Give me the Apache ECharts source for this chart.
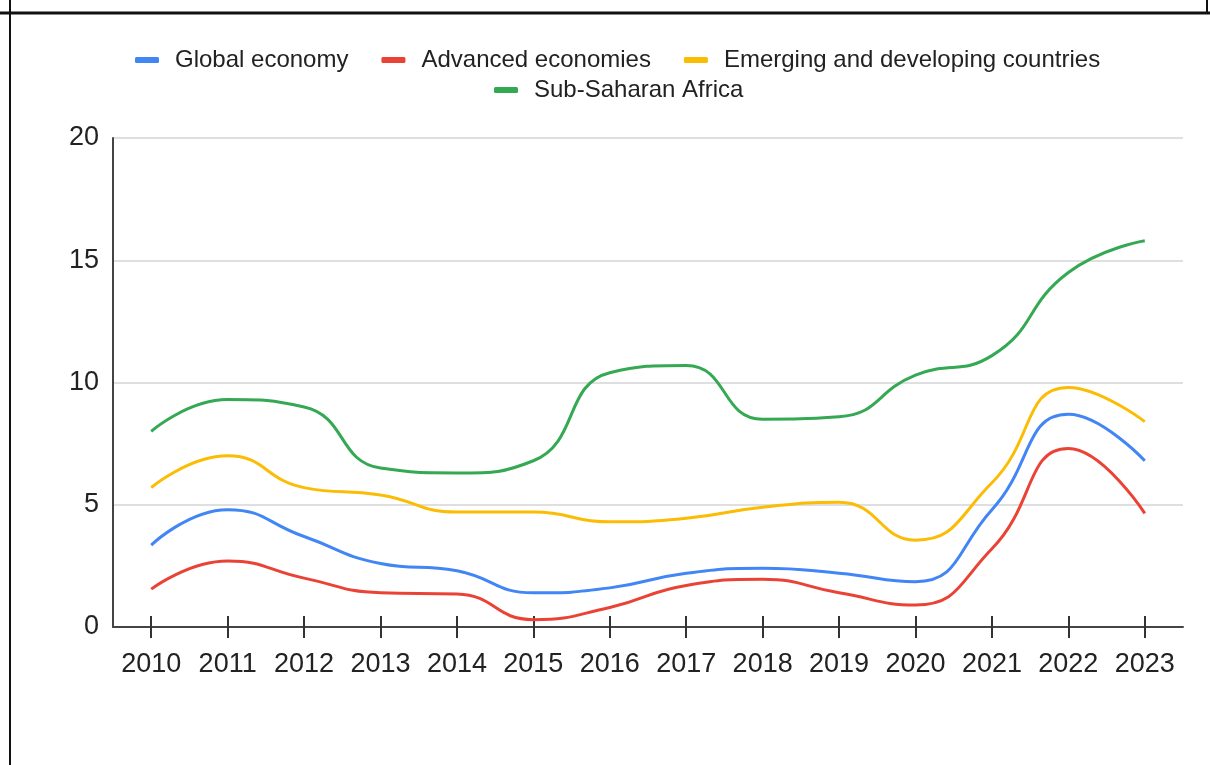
<!DOCTYPE html>
<html><head><meta charset="utf-8">
<script src="https://cdn.jsdelivr.net/npm/echarts@6/dist/echarts.min.js"></script>
<style>html,body{margin:0;padding:0;background:#fff}#c{width:1210px;height:765px}</style>
</head><body><div id="c"></div>
<script>
var years = ['2010','2011','2012','2013','2014','2015','2016','2017','2018','2019','2020','2021','2022','2023'];
var globalEconomy = [3.35, 4.8, 3.7, 2.6, 2.3, 1.4, 1.6, 2.2, 2.4, 2.2, 1.85, 4.8, 8.7, 6.8];
var advancedEconomies = [1.55, 2.7, 2.0, 1.4, 1.35, 0.3, 0.8, 1.7, 1.95, 1.4, 0.9, 3.2, 7.3, 4.65];
var emergingDeveloping = [5.7, 7.0, 5.7, 5.4, 4.7, 4.7, 4.3, 4.45, 4.9, 5.1, 3.55, 5.9, 9.8, 8.4];
var subSaharanAfrica = [8.0, 9.3, 9.0, 6.5, 6.3, 6.8, 10.4, 10.7, 8.5, 8.6, 10.3, 11.1, 14.5, 15.8];
var seriesNames = ['Global economy', 'Advanced economies', 'Emerging and developing countries', 'Sub-Saharan Africa'];
var colors = ['#4285F4', '#EA4335', '#FBBC04', '#34A853'];

var chart = echarts.init(document.getElementById('c'), null, {renderer: 'canvas'});
var font = 'Arial, "Liberation Sans", sans-serif';
function mk(name, data, color) {
  return {name: name, type: 'line', data: data, smooth: 0.5, showSymbol: false, symbol: 'none',
    lineStyle: {color: color, width: 3}, itemStyle: {color: color}, xAxisIndex: 0};
}
var legendCommon = {
  icon: 'roundRect', itemWidth: 24, itemHeight: 6, itemGap: 33, padding: 0,
  textStyle: {fontFamily: font, fontSize: 24, color: '#222', padding: [0, 0, 0, 11]}
};
chart.setOption({
  animation: false,
  color: colors,
  legend: [
    Object.assign({top: 48, left: 135, data: seriesNames.slice(0, 3)}, legendCommon),
    Object.assign({top: 78, left: 494, data: seriesNames.slice(3)}, legendCommon)
  ],
  grid: {left: 113, right: 27, top: 138, bottom: 138},
  xAxis: [{
    type: 'category', data: years, boundaryGap: true,
    axisLine: {show: true, lineStyle: {color: '#444', width: 2}},
    axisTick: {show: true, interval: 0, alignWithLabel: true, length: 11, lineStyle: {color: '#333', width: 2}},
    axisLabel: {interval: 0, hideOverlap: false, fontFamily: font, fontSize: 27, color: '#222', margin: 24}
  }, {
    type: 'category', data: years, boundaryGap: true, position: 'bottom',
    axisLine: {show: false},
    axisTick: {show: true, interval: 0, alignWithLabel: true, inside: true, length: 11, lineStyle: {color: '#333', width: 2}},
    axisLabel: {show: false}
  }],
  yAxis: {
    type: 'value', min: 0, max: 20, interval: 5,
    axisLine: {show: true, lineStyle: {color: '#444', width: 2}},
    axisTick: {show: false},
    splitLine: {lineStyle: {color: '#d4d4d4', width: 1.5}},
    axisLabel: {fontFamily: font, fontSize: 27, color: '#222', margin: 14}
  },
  graphic: [
    {type: 'line', shape: {x1: 0, y1: 13, x2: 1210, y2: 13}, style: {stroke: '#111', lineWidth: 3}},
    {type: 'line', shape: {x1: 10, y1: 0, x2: 10, y2: 765}, style: {stroke: '#111', lineWidth: 2}},
    {type: 'line', shape: {x1: 1207, y1: 0, x2: 1207, y2: 13}, style: {stroke: '#111', lineWidth: 2}}
  ],
  series: [
    mk(seriesNames[0], globalEconomy, colors[0]),
    mk(seriesNames[1], advancedEconomies, colors[1]),
    mk(seriesNames[2], emergingDeveloping, colors[2]),
    mk(seriesNames[3], subSaharanAfrica, colors[3])
  ]
});
</script></body></html>
